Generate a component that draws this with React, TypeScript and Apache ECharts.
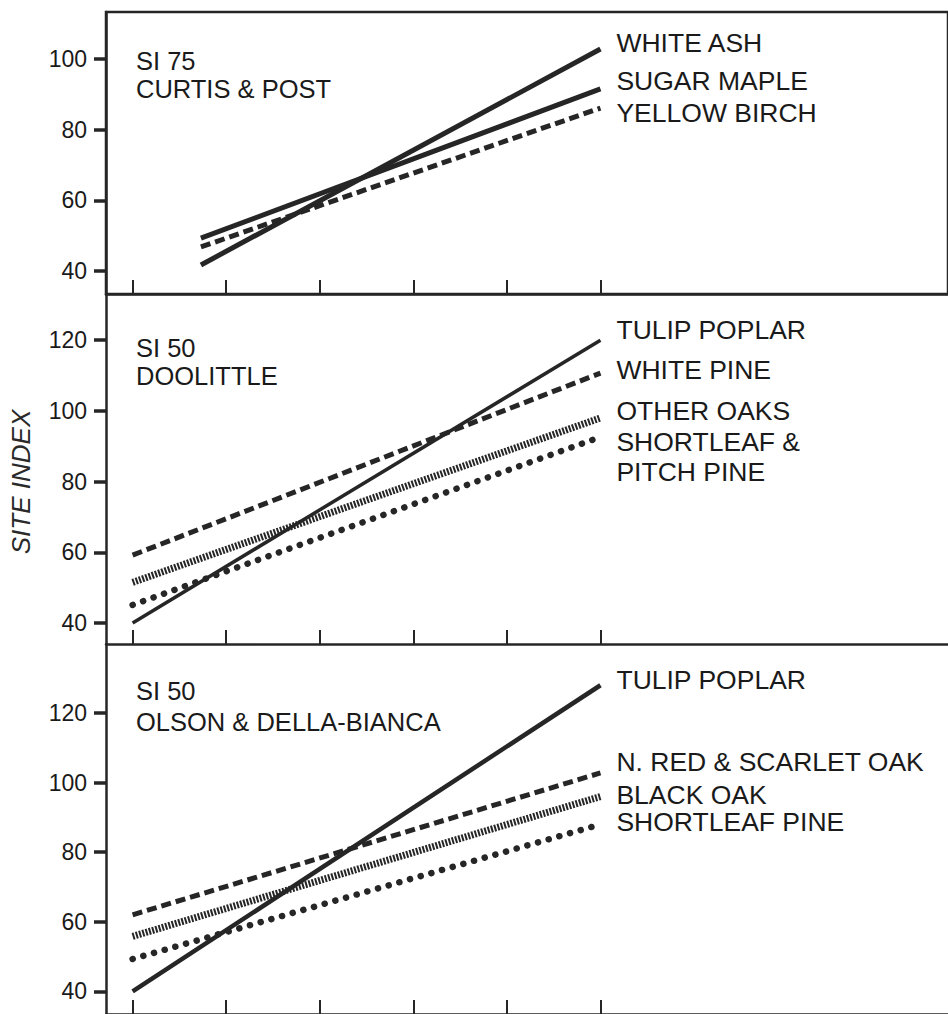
import React, { useEffect, useRef } from "react";
import * as echarts from "echarts";

// Tick positions along the (unlabelled) horizontal axis
const xTicks = [0, 1, 2, 3, 4, 5];
const yTicksTop = [40, 60, 80, 100];
const yTicksLower = [40, 60, 80, 100, 120];

// SI 75 — Curtis & Post
const curtisX = [0.73, 5];
const whiteAsh = [41.7, 102.8];
const sugarMaple = [49.3, 91.5];
const yellowBirch = [46.8, 86.1];

// SI 50 — Doolittle
const doolittleX = [0, 5];
const tulipPoplarD = [40, 120];
const whitePine = [59.2, 110.7];
const otherOaks = [51.5, 98];
const shortleafPitchPine = [45.1, 92.6];

// SI 50 — Olson & Della-Bianca
const olsonX = [0, 5];
const tulipPoplarO = [40, 128];
const redScarletOak = [62, 102.8];
const blackOak = [55.8, 96];
const shortleafPine = [49.3, 88];

const FONT = "'Liberation Sans', Arial, Helvetica, sans-serif";
const INK = "#262626";

const solid = (w: number) => ({ type: "solid", width: w, color: INK });
const dashed = { type: [10, 5], width: 5, color: INK };
const hatched = { type: [2, 1.4], width: 7, color: INK };
const dotted = { type: [0.1, 11], width: 6.5, color: INK, cap: "round" };

function line(
  name: string,
  label: string,
  xs: number[],
  ys: number[],
  style: any,
  panel: number,
  dy: number
) {
  return {
    type: "line",
    name,
    xAxisIndex: panel,
    yAxisIndex: panel,
    data: xs.map((x, i) => [x, ys[i]]),
    symbol: "none",
    lineStyle: style,
    silent: true,
    clip: false,
    endLabel: {
      show: true,
      formatter: () => label,
      distance: 16,
      offset: [0, dy],
      fontSize: 26.5,
      lineHeight: 30,
      color: "#1a1a1a",
      fontFamily: FONT,
      align: "left",
      verticalAlign: "middle",
    },
  };
}

function xAxis(gridIndex: number) {
  return {
    type: "value",
    gridIndex,
    min: -0.2845,
    max: 8.7145,
    axisLine: { show: true, onZero: false, lineStyle: { color: INK, width: 2.5 } },
    axisTick: {
      show: true,
      inside: true,
      length: 14,
      customValues: xTicks,
      lineStyle: { color: INK, width: 2 },
    },
    axisLabel: { show: false },
    splitLine: { show: false },
  };
}

function yAxis(gridIndex: number, min: number, max: number, ticks: number[]) {
  return {
    type: "value",
    gridIndex,
    min,
    max,
    axisLine: { show: true, onZero: false, lineStyle: { color: INK, width: 2.5 } },
    axisTick: {
      show: true,
      inside: false,
      length: 12,
      customValues: ticks,
      lineStyle: { color: INK, width: 3.5 },
    },
    axisLabel: {
      show: true,
      customValues: ticks,
      margin: 19,
      fontSize: 23,
      color: "#1a1a1a",
      fontFamily: FONT,
    },
    splitLine: { show: false },
  };
}

function panelTitle(text: string, top: number, lineHeight: number) {
  return {
    text,
    left: 136,
    top,
    padding: 0,
    textStyle: {
      fontSize: 25.5,
      fontWeight: "normal",
      lineHeight,
      color: "#1a1a1a",
      fontFamily: FONT,
    },
  };
}

export default function App() {
  const ref = useRef<HTMLDivElement>(null);

  useEffect(() => {
    if (!ref.current) return;
    const chart = echarts.init(ref.current, undefined, { renderer: "svg" });
    chart.setOption({
      animation: false,
      backgroundColor: "#ffffff",
      title: [
        panelTitle("SI 75\nCURTIS & POST", 47, 28),
        panelTitle("SI 50\nDOOLITTLE", 334, 28),
        panelTitle("SI 50\nOLSON & DELLA-BIANCA", 675.5, 31),
      ],
      grid: [
        {
          left: 106,
          right: -12,
          top: 12,
          height: 282,
          show: true,
          borderColor: INK,
          borderWidth: 2.5,
          backgroundColor: "transparent",
        },
        { left: 106, right: -12, top: 294, height: 350 },
        { left: 106, right: -12, top: 644, height: 376 },
      ],
      xAxis: [xAxis(0), xAxis(1), xAxis(2)],
      yAxis: [
        yAxis(0, 33.49, 113.27, yTicksTop),
        yAxis(1, 34.06, 133.07, yTicksLower),
        yAxis(2, 33.49, 139.86, yTicksLower),
      ],
      graphic: [
        {
          type: "text",
          x: 21,
          y: 482,
          rotation: Math.PI / 2,
          style: {
            text: "SITE INDEX",
            fontSize: 26,
            fontStyle: "italic",
            fontFamily: FONT,
            fill: "#2a2a2a",
            align: "center",
            verticalAlign: "middle",
          },
        },
      ],
      series: [
        line("White ash", "WHITE ASH", curtisX, whiteAsh, solid(5), 0, -6),
        line("Sugar maple", "SUGAR MAPLE", curtisX, sugarMaple, solid(5), 0, -8),
        line("Yellow birch", "YELLOW BIRCH", curtisX, yellowBirch, dashed, 0, 5),

        line("Tulip poplar", "TULIP POPLAR", doolittleX, tulipPoplarD, solid(3.5), 1, -10),
        line("White pine", "WHITE PINE", doolittleX, whitePine, dashed, 1, -3),
        line("Other oaks", "OTHER OAKS", doolittleX, otherOaks, hatched, 1, -7),
        line(
          "Shortleaf & pitch pine",
          "SHORTLEAF &\nPITCH PINE",
          doolittleX,
          shortleafPitchPine,
          dotted,
          1,
          20
        ),

        line("Tulip poplar (Olson)", "TULIP POPLAR", olsonX, tulipPoplarO, solid(4.5), 2, -5),
        line("N. red & scarlet oak", "N. RED & SCARLET OAK", olsonX, redScarletOak, dashed, 2, -11),
        line("Black oak", "BLACK OAK", olsonX, blackOak, hatched, 2, -2),
        line("Shortleaf pine", "SHORTLEAF PINE", olsonX, shortleafPine, dotted, 2, -2),
      ],
    });
    return () => chart.dispose();
  }, []);

  return (
    <div
      ref={ref}
      style={{ position: "fixed", left: 0, top: 0, width: 948, height: 1014 }}
    />
  );
}
